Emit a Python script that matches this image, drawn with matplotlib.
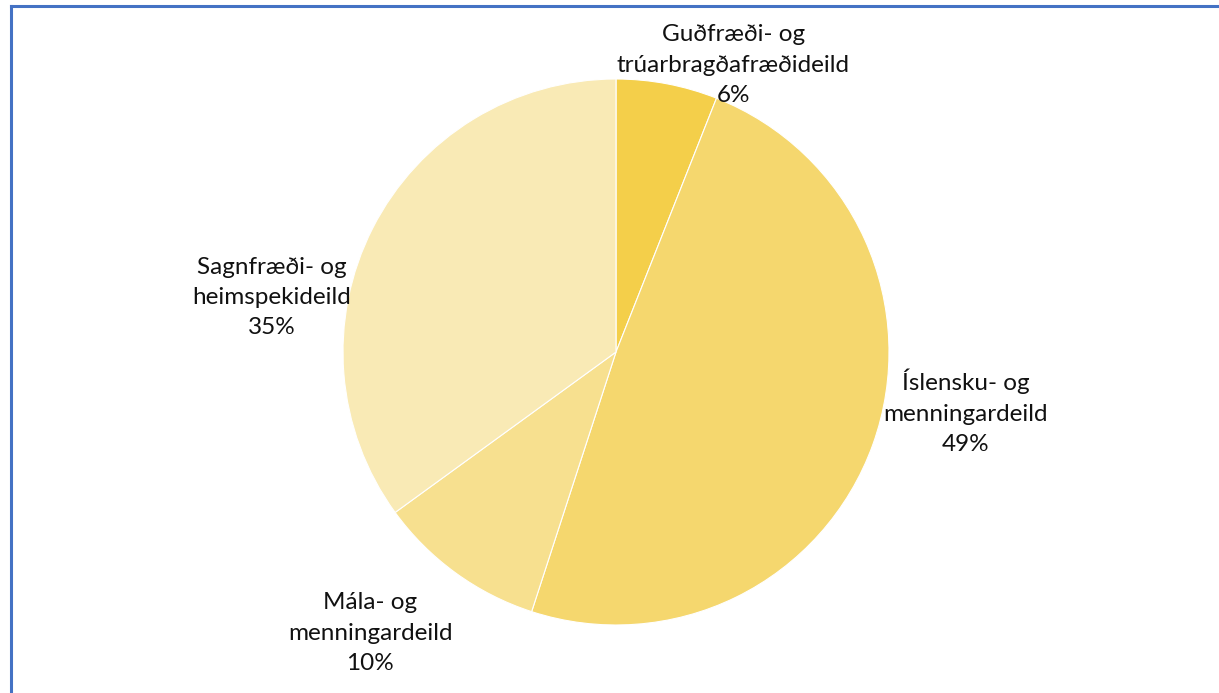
import matplotlib
matplotlib.use("Agg")
import matplotlib.pyplot as plt
from matplotlib.lines import Line2D

# --- donnees ---
deildir = ["Guðfræði- og\ntrúarbragðafræðideild", "Íslensku- og\nmenningardeild",
           "Mála- og\nmenningardeild", "Sagnfræði- og\nheimspekideild"]
hlutfall = [6, 49, 10, 35]
litir = ["#F4CF4A", "#F5D76E", "#F7E08F", "#F9EAB5"]

# position des etiquettes (en unites du rayon)
label_pos = [(0.43, 1.05), (1.28, -0.22), (-0.90, -1.03), (-1.26, 0.20)]

W, H = 1219, 693
fig = plt.figure(figsize=(W / 100, H / 100), dpi=100)
fig.patch.set_facecolor("white")

cx, cy, r = 616, 352, 273
ax = fig.add_axes([(cx - r) / W, (H - cy - r) / H, 2 * r / W, 2 * r / H])
ax.pie(hlutfall, colors=litir, startangle=90, counterclock=False,
       wedgeprops=dict(edgecolor="white", linewidth=0.8))
ax.set_xlim(-1, 1)
ax.set_ylim(-1, 1)
ax.set_aspect("equal")
ax.axis("off")

for nafn, val, (lx, ly) in zip(deildir, hlutfall, label_pos):
    ax.text(lx, ly, f"{nafn}\n{val}%", ha="center", va="center",
            fontsize=17.5, family=["Lato", "DejaVu Sans"], linespacing=1.55,
            color="#111111", clip_on=False)

# cadre bleu (haut et gauche)
blue = "#4472C4"
fig.add_artist(Line2D([10.5 / W, 10.5 / W], [0, 1 - 5.5 / H], color=blue, lw=2.2,
                      transform=fig.transFigure))
fig.add_artist(Line2D([10.5 / W, 1], [1 - 5.5 / H, 1 - 5.5 / H], color=blue, lw=2.2,
                      transform=fig.transFigure))

fig.savefig("out.png", dpi=100)
